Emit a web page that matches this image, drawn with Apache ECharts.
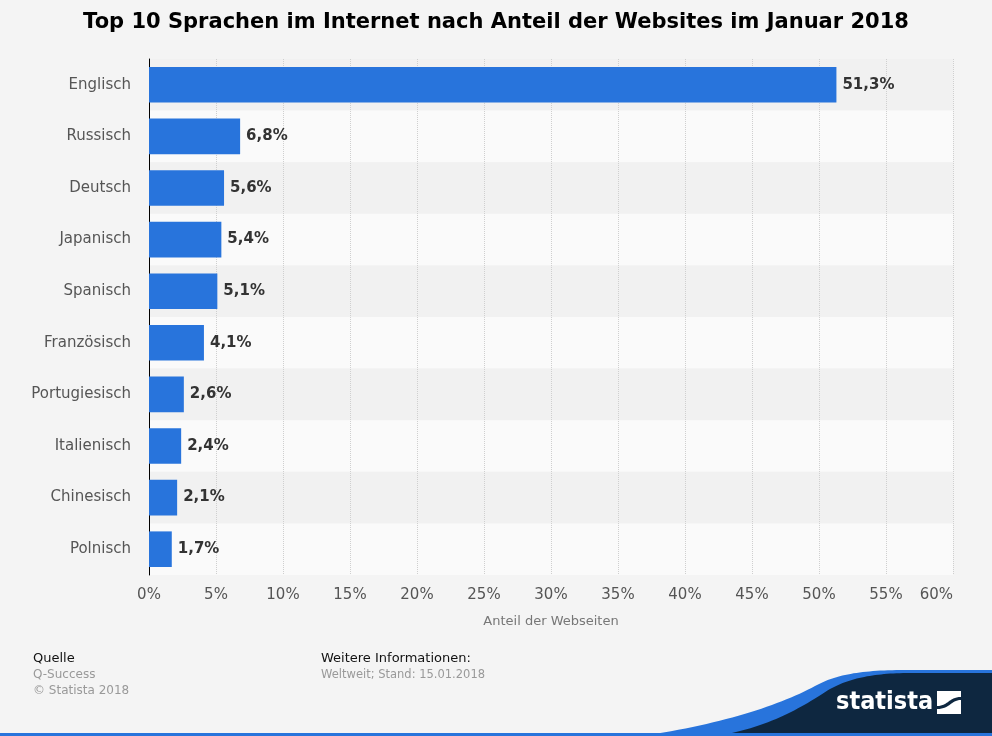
<!DOCTYPE html>
<html><head><meta charset="utf-8">
<script src="https://cdn.jsdelivr.net/npm/echarts@6/dist/echarts.min.js"></script>
<style>html,body{margin:0;padding:0;background:#f4f4f4}#c{width:992px;height:736px}</style>
</head><body><div id="c"></div>
<script>
const categories = ['Englisch','Russisch','Deutsch','Japanisch','Spanisch','Französisch','Portugiesisch','Italienisch','Chinesisch','Polnisch'];
const values = [51.3, 6.8, 5.6, 5.4, 5.1, 4.1, 2.6, 2.4, 2.1, 1.7];
const titleText = 'Top 10 Sprachen im Internet nach Anteil der Websites im Januar 2018';
const axisName = 'Anteil der Webseiten';

function bez(x0, y0, c1x, c1y, c2x, c2y, x1, y1) {
  const pts = [];
  for (let i = 0; i <= 30; i++) {
    const t = i / 30, u = 1 - t;
    pts.push([u*u*u*x0 + 3*u*u*t*c1x + 3*u*t*t*c2x + t*t*t*x1,
              u*u*u*y0 + 3*u*u*t*c1y + 3*u*t*t*c2y + t*t*t*y1]);
  }
  return pts;
}
const bluePts = bez(640, 736, 720, 725, 780, 705, 815, 686)
  .concat(bez(815, 686, 835, 675, 860, 670, 905, 670))
  .concat([[992, 670], [992, 736]]);
const navyPts = bez(715, 736, 770, 728, 805, 705, 830, 689)
  .concat(bez(830, 689, 850, 678, 875, 673, 910, 673))
  .concat([[992, 673], [992, 736]]);

const chart = echarts.init(document.getElementById('c'));
const font = 'DejaVu Sans';
const txt = (x, y, s, size, color) => ({type: 'text', x: x, y: y,
  style: {text: s, font: size + 'px "DejaVu Sans"', fill: color, textVerticalAlign: 'middle'}});
chart.setOption({
  backgroundColor: '#f4f4f4',
  title: {text: titleText, left: 'center', top: 7,
    textStyle: {fontFamily: font, fontSize: 21, fontWeight: 'bold', color: '#000'}},
  grid: {left: 149, right: 39, top: 59, bottom: 161},
  xAxis: {type: 'value', min: 0, max: 60, interval: 5,
    name: axisName, nameLocation: 'middle', nameGap: 40,
    nameTextStyle: {fontFamily: font, fontSize: 13, color: '#777'},
    axisLine: {show: false}, axisTick: {show: false},
    axisLabel: {formatter: v => v + '%', fontFamily: font, fontSize: 15, color: '#555', margin: 13, alignMaxLabel: 'right'},
    splitLine: {show: true, lineStyle: {color: '#cfcfcf', type: 'dotted', width: 1}}},
  yAxis: {type: 'category', data: categories, inverse: true,
    axisLine: {show: true, lineStyle: {color: '#000', width: 1}},
    axisTick: {show: false},
    axisLabel: {fontFamily: font, fontSize: 15, color: '#555', margin: 18},
    splitArea: {show: true, areaStyle: {color: ['#f1f1f1', '#fafafa']}}},
  series: [{type: 'bar', data: values, barCategoryGap: '31%',
    itemStyle: {color: '#2874dc'},
    label: {show: true, position: 'right', distance: 6,
      formatter: p => p.value.toFixed(1).replace('.', ',') + '%',
      fontFamily: font, fontSize: 15, fontWeight: 'bold', color: '#333'}}],
  graphic: [
    txt(33, 659, 'Quelle', 13, '#111'),
    txt(33, 675, 'Q-Success', 12, '#999'),
    txt(33, 691, '© Statista 2018', 12, '#999'),
    txt(321, 659, 'Weitere Informationen:', 13, '#111'),
    txt(321, 675, 'Weltweit; Stand: 15.01.2018', 11.5, '#999'),
    {type: 'polygon', shape: {points: bluePts}, style: {fill: '#2874dc'}},
    {type: 'polygon', shape: {points: navyPts}, style: {fill: '#0e2740'}},
    {type: 'rect', shape: {x: 0, y: 733, width: 992, height: 3}, style: {fill: '#2874dc'}},
    {type: 'text', x: 836, y: 702,
      style: {text: 'statista', font: 'bold 25px "DejaVu Sans Condensed"', fill: '#fff', textVerticalAlign: 'middle'}},
    {type: 'rect', shape: {x: 937, y: 691, width: 24, height: 23}, style: {fill: '#fff'}},
    {type: 'polygon', shape: {points: bez(937, 706, 948, 706, 949, 697, 961, 697).concat(bez(961, 700, 951, 700, 950, 709, 937, 709))}, style: {fill: '#0e2740'}}
  ]
});
</script></body></html>
